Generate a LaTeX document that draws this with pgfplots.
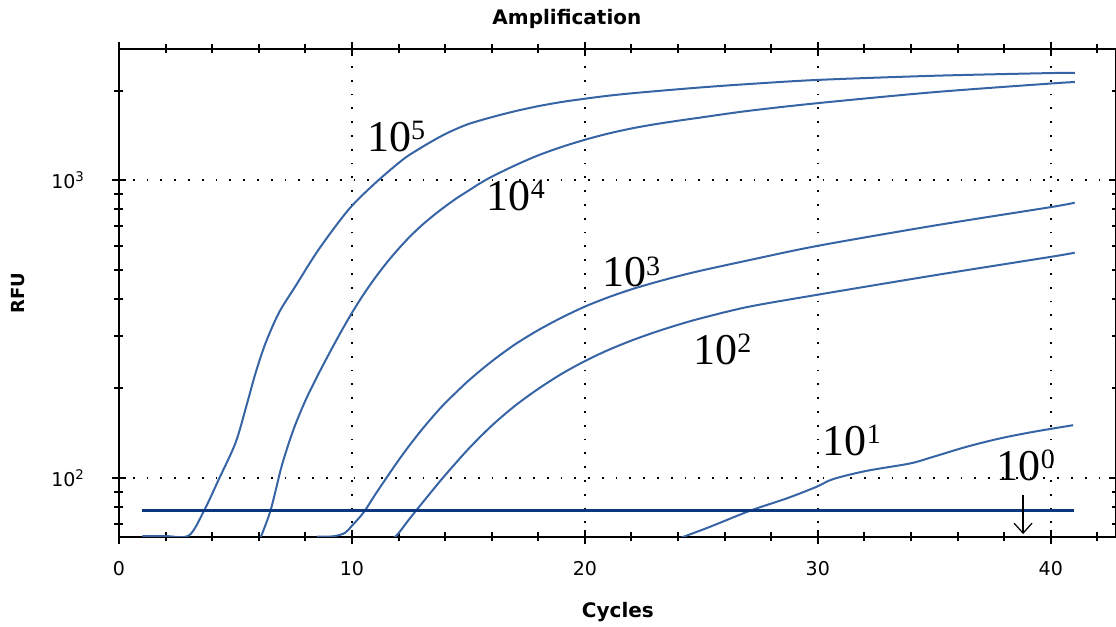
\documentclass[border=0pt]{standalone}
\usepackage{fontspec}
\setmainfont{DejaVu Sans}
\newfontfamily\serif{Liberation Serif}
\usepackage{pgfplots}
\pgfplotsset{compat=1.18}
\usetikzlibrary{arrows.meta}

\definecolor{curve}{RGB}{55,100,165}
\definecolor{thr}{RGB}{10,55,125}

% dilution labels: 10 with raised exponent
\newcommand{\lab}[1]{{\serif\fontsize{22}{24}\selectfont 10\raisebox{5.7pt}{\fontsize{14}{16}\selectfont #1}}}

\begin{document}
\begin{tikzpicture}
\path[use as bounding box] (-59.5pt,-45pt) rectangle (498.6pt,268.5pt);
\begin{axis}[
    ymode=log,
    scale only axis,
    width=498.6pt, height=244pt,
    xmin=0, xmax=42.8,
    ymin=63.5, ymax=2760,
    xtick={0,10,20,30,40},
    minor xtick={2,4,6,8,12,14,16,18,22,24,26,28,32,34,36,38,42},
    ytick={100,1000},
    yticklabels={10\textsuperscript{2},10\textsuperscript{3}},
    minor ytick={70,80,90,200,300,400,500,600,700,800,900,2000},
    /pgf/number format/assume math mode=true,
    xticklabel style={font=\fontsize{9.5}{10}\selectfont, yshift=-5pt},
    yticklabel style={font=\fontsize{9.5}{10}\selectfont, xshift=-10pt},
    grid=major,
    major grid style={black, line width=0.9pt, dash pattern=on 0.9pt off 6pt},
    axis line style={line width=1pt},
    tick style={black, line width=1pt},
    tick align=center,
    major tick length=7pt,
    minor tick length=4.5pt,
    every axis plot/.append style={line width=1pt, smooth, tension=0.5},
]
% 10^5
\addplot[curve] coordinates {
(1,63.9) (2,63.9) (3.0,64.2) (3.65,77.7) (4.29,99.3) (5.01,131.8) (5.51,179.5)
(5.87,226.3) (6.30,285.1) (6.87,359.7) (7.58,441.6) (8.58,586.8) (9.87,799.8)
(11.02,981.7) (12.16,1169.5) (12.77,1258.9) (13.59,1374) (14.21,1455.5)
(15,1545) (16,1629) (17,1706) (18,1774) (19,1832) (20,1879) (21,1923)
(22,1959) (23,1991) (25,2051) (27,2104) (30,2173) (35,2244) (40,2291)
(41.03,2296)
};
% 10^4
\addplot[curve] coordinates {
(6,61.0) (6.5,77.6) (7,110.9) (7.5,146.2) (8,182.0) (8.5,218.8) (9,260.0)
(9.5,306.9) (10,358.9) (10.5,414.0) (11,470.9) (11.5,529.7) (12,588.8)
(12.5,648.6) (13,706.3) (13.5,762.1) (14,816.6) (14.5,871.0) (15,922.6)
(15.5,977.2) (16,1028) (17,1122) (18,1213) (19,1294) (20,1368) (21,1435)
(22,1493) (23,1542) (24,1585) (25,1626) (27,1710) (30,1816) (35,1977)
(40,2113) (41.03,2138)
};
% 10^3
\addplot[curve] coordinates {
(8.5,63.6) (9.2,63.8) (9.7,65.5) (10,69.2) (10.5,76.7) (11,88.1) (11.5,100.7)
(12,114.8) (12.5,129.7) (13,145.5) (13.5,161.8) (14,178.6) (15,212.3)
(16,246.6) (17,281.2) (18,314.1) (19,345.9) (20,376.7) (21,404.6) (22,430.5)
(23,453.9) (24,476.4) (25,497.7) (27,538.3) (30,602.6) (35,704.7) (40,812.8)
(41.03,841.4)
};
% 10^2
\addplot[curve] coordinates {
(11.8,63) (12,65.3) (12.5,73.5) (13,82.2) (13.5,91.8) (14,102.3) (15,125.3)
(16,150.0) (17,175.0) (18,199.5) (19,223.9) (20,247.2) (21,269.2) (22,289.7)
(23,309.0) (24,327.3) (25,344.4) (27,375.8) (30,413.0) (35,479.7) (40,553.4)
(41.03,571.5)
};
% 10^1
\addplot[curve] coordinates {
(24.0,62.5) (24.22,63.5) (25.36,68.6) (27.08,77.7) (28.66,85.5) (29.94,93.5)
(30.66,99.3) (32.09,105.8) (33.95,112) (34.95,117.9) (36.38,127.4)
(37.81,135.9) (39.24,143) (40.96,150.6)
};
% threshold
\addplot[thr, line width=1.5pt, sharp plot] coordinates {(1,78.1) (41,78.1)};

\node[anchor=base west, inner sep=0pt] at (axis cs:10.64,1254) {\lab{5}};
\node[anchor=base west, inner sep=0pt] at (axis cs:15.78,793) {\lab{4}};
\node[anchor=base west, inner sep=0pt] at (axis cs:20.72,438.5) {\lab{3}};
\node[anchor=base west, inner sep=0pt] at (axis cs:24.64,241.3) {\lab{2}};
\node[anchor=base west, inner sep=0pt] at (axis cs:30.2,119.5) {\lab{1}};
\node[anchor=base west, inner sep=0pt] at (axis cs:37.67,98.5) {\lab{0}};
\draw[black, line width=0.6pt, -{Straight Barb[length=5pt,width=9pt]}]
    (axis cs:38.81,87.7) -- (axis cs:38.81,64.9);
\end{axis}
\node[font=\bfseries\fontsize{10}{12}\selectfont] at (224pt,259pt) {Amplification};
\node[font=\bfseries\fontsize{10}{12}\selectfont] at (249.5pt,-37.5pt) {Cycles};
\node[font=\bfseries\fontsize{9}{11}\selectfont, rotate=90] at (-50.5pt,122pt) {RFU};
\end{tikzpicture}
\end{document}
